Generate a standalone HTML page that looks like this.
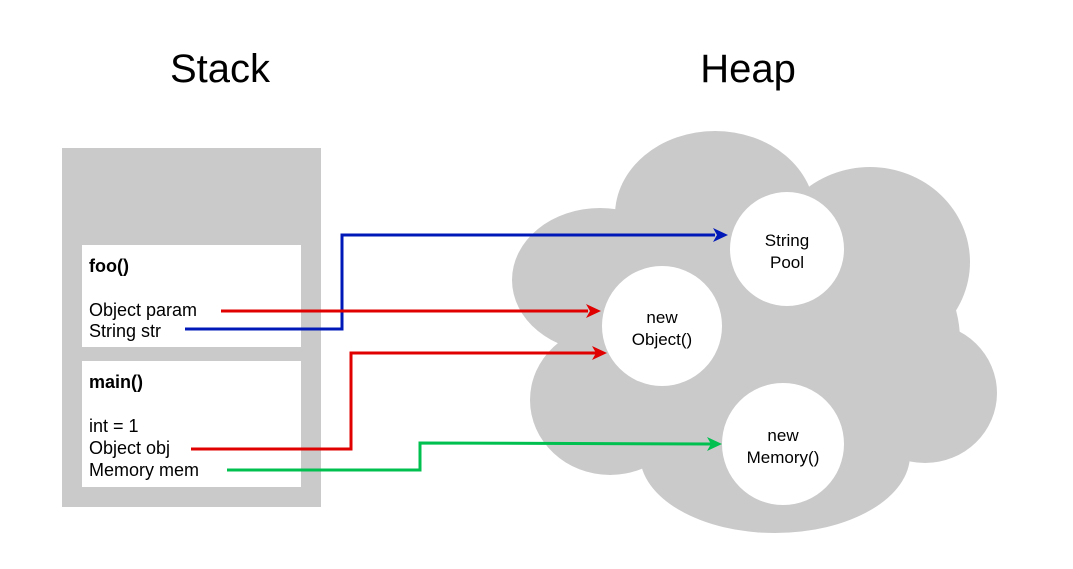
<!DOCTYPE html>
<html><head><style>
body{margin:0;background:#fff;}
svg{display:block;font-family:"Liberation Sans",Arial,sans-serif;}
</style></head><body>
<svg width="1073" height="569" viewBox="0 0 1073 569">
<text x="220" y="82" font-size="40" text-anchor="middle">Stack</text>
<text x="748" y="82" font-size="40" text-anchor="middle">Heap</text>
<rect x="62" y="148" width="259" height="359" fill="#cacaca"/>
<rect x="82" y="245" width="219" height="102" fill="#fff"/>
<rect x="82" y="361" width="219" height="126" fill="#fff"/>
<g font-size="18">
<text x="89" y="272" font-weight="bold">foo()</text>
<text x="89" y="316">Object param</text>
<text x="89" y="337">String str</text>
<text x="89" y="388" font-weight="bold">main()</text>
<text x="89" y="432">int = 1</text>
<text x="89" y="454">Object obj</text>
<text x="89" y="476">Memory mem</text>
</g>
<g fill="#cacaca">
<ellipse cx="715" cy="215" rx="100" ry="84"/>
<ellipse cx="870" cy="262" rx="100" ry="95"/>
<ellipse cx="600" cy="280" rx="88" ry="72"/>
<ellipse cx="610" cy="400" rx="80" ry="75"/>
<ellipse cx="775" cy="455" rx="135" ry="78"/>
<ellipse cx="925" cy="393" rx="72" ry="70"/>
<ellipse cx="760" cy="340" rx="200" ry="150"/>
</g>
<g fill="#fff">
<circle cx="787" cy="249" r="57"/>
<circle cx="662" cy="326" r="60"/>
<circle cx="783" cy="444" r="61"/>
</g>
<g font-size="17" text-anchor="middle">
<text x="787" y="246">String</text><text x="787" y="268">Pool</text>
<text x="662" y="323">new</text><text x="662" y="345">Object()</text>
<text x="783" y="441">new</text><text x="783" y="463">Memory()</text>
</g>
<g fill="none" stroke-width="3">
<polyline points="185,329 342,329 342,235 715,235" stroke="#0018b8"/>
<polyline points="221,311 588,311" stroke="#e00000"/>
<polyline points="191,449 351,449 351,353 596,353" stroke="#e00000"/>
<polyline points="227,470 420,470 420,443 711,444" stroke="#00c050"/>
</g>
<polygon points="728,235 713,228 717,235 713,242" fill="#0018b8"/>
<polygon points="601,311 586,304 590,311 586,318" fill="#e00000"/>
<polygon points="607,353 592,346 596,353 592,360" fill="#e00000"/>
<polygon points="722,444 707,437 711,444 707,451" fill="#00c050"/>
</svg>
</body></html>
